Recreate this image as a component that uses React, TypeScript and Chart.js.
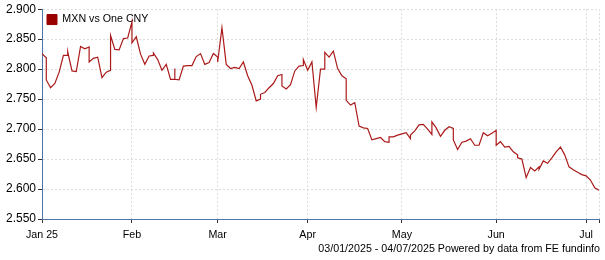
import React, { useEffect, useRef } from 'react';
import { Chart, registerables } from 'chart.js';

Chart.register(...registerables);

// ---------- data ----------
const seriesLabel = 'MXN vs One CNY';
const firstTradingDay = '2025-01-03';

// Weekday closes from 03/01/2025 to 04/07/2025 (one per weekday)
const closes: number[] = [
  2.826, 2.782, 2.769, 2.776, 2.795, 2.823, 2.829, 2.797, 2.796, 2.838,
  2.834, 2.812, 2.818, 2.820, 2.786, 2.795, 2.856, 2.833, 2.832, 2.851,
  2.852, 2.844, 2.854, 2.825, 2.808, 2.822, 2.827, 2.816, 2.798, 2.808,
  2.783, 2.783, 2.782, 2.805, 2.806, 2.806, 2.821, 2.826, 2.808, 2.811,
  2.826, 2.812, 2.869, 2.808, 2.801, 2.803, 2.801, 2.812, 2.789, 2.773,
  2.747, 2.758, 2.761, 2.769, 2.776, 2.789, 2.772, 2.767, 2.774, 2.797,
  2.805, 2.816, 2.798, 2.812, 2.736, 2.800, 2.828, 2.820, 2.830, 2.801,
  2.789, 2.748, 2.740, 2.744, 2.705, 2.702, 2.701, 2.682, 2.684, 2.686,
  2.679, 2.687, 2.687, 2.690, 2.692, 2.694, 2.690, 2.697, 2.707, 2.708,
  2.700, 2.712, 2.702, 2.688, 2.698, 2.704, 2.682, 2.666, 2.678, 2.680,
  2.684, 2.673, 2.673, 2.694, 2.689, 2.693, 2.673, 2.679, 2.670, 2.671,
  2.662, 2.652, 2.650, 2.619, 2.636, 2.630, 2.633, 2.647, 2.643, 2.652,
  2.662, 2.670, 2.657, 2.637, 2.632, 2.628, 2.624, 2.622, 2.615, 2.602,
  2.598,
];

// Weekend quotes, plotted at the following Monday (keyed MM-DD of that Monday)
const weekendQuotes: Record<string, number[]> = {
  '01-06': [2.819],
  '01-13': [2.823],
  '01-20': [2.837],
  '01-27': [2.798],
  '02-03': [2.879],
  '02-10': [2.823],
  '02-17': [2.783, 2.801],
  '03-03': [2.820],
  '03-17': [2.750],
  '03-24': [2.791],
  '03-31': [2.806],
  '04-07': [2.800],
  '04-14': [2.784],
  '04-28': [2.678],
  '05-05': [2.684],
  '05-12': [2.691],
  '05-19': [2.701],
  '06-02': [2.698],
  '06-09': [2.657],
  '06-16': [2.637],
};

const monthLabels = ['Jan 25', 'Feb', 'Mar', 'Apr', 'May', 'Jun', 'Jul'];
const yMin = 2.55;
const yMax = 2.9;
const yStep = 0.05;
const footerText = '03/01/2025 - 04/07/2025 Powered by data from FE fundinfo';

// ---------- style ----------
const FONT = "'Liberation Sans', Arial, sans-serif";
const lineColor = '#ab1a1a';
const legendColor = '#990000';
const axisColor = '#4f74a8';
const gridColor = '#dcdcdc';
const tickMarkColor = '#333333';

function tradingDays(start: string, n: number): Date[] {
  const out: Date[] = [];
  const d = new Date(start + 'T00:00:00Z');
  while (out.length < n) {
    const wd = d.getUTCDay();
    if (wd !== 0 && wd !== 6) out.push(new Date(d.getTime()));
    d.setUTCDate(d.getUTCDate() + 1);
  }
  return out;
}

function mmdd(d: Date): string {
  const m = String(d.getUTCMonth() + 1).padStart(2, '0');
  const day = String(d.getUTCDate()).padStart(2, '0');
  return `${m}-${day}`;
}

// keeps the in-chart legend aligned to the top of the plot area
const legendInside = {
  id: 'legendInside',
  afterLayout(chart: any) {
    const l = chart.legend;
    if (!l) return;
    const dy = chart.chartArea.top - l.top;
    l.top += dy;
    l.bottom += dy;
  },
};

export default function App() {
  const canvasRef = useRef<HTMLCanvasElement>(null);

  useEffect(() => {
    document.body.style.margin = '0';
    const canvas = canvasRef.current;
    if (!canvas) return;

    const days = tradingDays(firstTradingDay, closes.length);
    const points: { x: number; y: number }[] = [];
    days.forEach((d, i) => {
      (weekendQuotes[mmdd(d)] || []).forEach((v) => points.push({ x: i, y: v }));
      points.push({ x: i, y: closes[i] });
    });

    const monthStarts: number[] = [];
    days.forEach((d, i) => {
      if (i === 0 || d.getUTCMonth() !== days[i - 1].getUTCMonth()) monthStarts.push(i);
    });
    const lastIndex = days.length - 1;
    const tickValues = [...monthStarts, lastIndex];
    const labelFor = new Map<number, string>(monthStarts.map((v, k) => [v, monthLabels[k]]));

    const chart = new Chart(canvas, {
      type: 'line',
      data: {
        datasets: [
          {
            label: seriesLabel,
            data: points,
            borderColor: lineColor,
            backgroundColor: legendColor,
            borderWidth: 1.2,
            pointRadius: 0,
            tension: 0,
          },
        ],
      },
      plugins: [legendInside],
      options: {
        responsive: false,
        animation: false,
        devicePixelRatio: 1,
        layout: { padding: { left: 0, right: 1, top: 9, bottom: 19 } },
        scales: {
          x: {
            type: 'linear',
            min: 0,
            max: lastIndex,
            afterBuildTicks: (s: any) => {
              s.ticks = tickValues.map((v) => ({ value: v }));
            },
            afterFit: (s: any) => {
              s.height = 22;
            },
            ticks: {
              autoSkip: false,
              maxRotation: 0,
              padding: 6,
              color: '#000',
              font: { family: FONT, size: 10.7 },
              callback: (v: any) => labelFor.get(Number(v)) ?? '',
            },
            grid: {
              color: gridColor,
              lineWidth: 1,
              tickLength: 4,
              tickColor: tickMarkColor,
              tickBorderDash: [],
            },
            border: { color: axisColor, width: 1, dash: [2, 2] },
          },
          y: {
            type: 'linear',
            min: yMin,
            max: yMax,
            afterFit: (s: any) => {
              s.width = 42;
            },
            ticks: {
              stepSize: yStep,
              padding: 2,
              color: '#000',
              font: { family: FONT, size: 12 },
              callback: (v: any) => Number(v).toFixed(3),
            },
            grid: {
              color: gridColor,
              lineWidth: 1,
              tickLength: 4,
              tickColor: tickMarkColor,
              tickBorderDash: [],
            },
            border: { color: axisColor, width: 1, dash: [2, 2] },
          },
        },
        plugins: {
          legend: {
            position: 'chartArea' as any,
            align: 'start',
            labels: {
              boxWidth: 10,
              boxHeight: 10,
              padding: 5,
              color: '#000',
              font: { family: FONT, size: 10.7 },
              generateLabels: (c: any) =>
                (Chart.defaults.plugins.legend.labels.generateLabels as any)(c).map((l: any) => ({
                  ...l,
                  fillStyle: legendColor,
                  strokeStyle: legendColor,
                  lineWidth: 1,
                })),
            },
          },
          tooltip: { enabled: false },
        },
      },
    });
    return () => chart.destroy();
  }, []);

  return (
    <div style={{ position: 'relative', width: 605, height: 260, background: '#fff' }}>
      <canvas ref={canvasRef} width={605} height={260} style={{ display: 'block' }} />
      <div
        style={{
          position: 'absolute',
          right: 5,
          top: 242,
          fontFamily: FONT,
          fontSize: '10.7px',
          lineHeight: '12px',
          color: '#000',
          whiteSpace: 'nowrap',
        }}
      >
        {footerText}
      </div>
    </div>
  );
}
